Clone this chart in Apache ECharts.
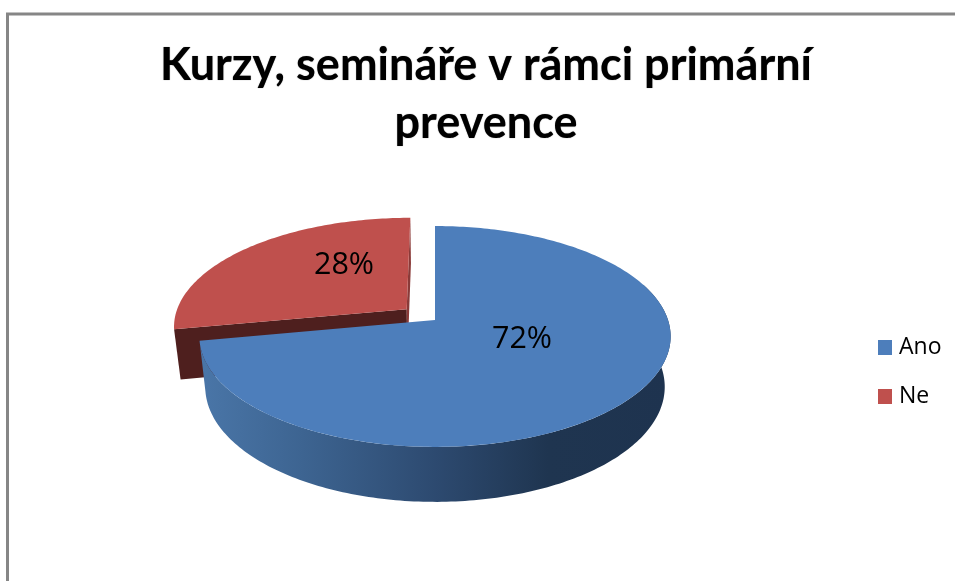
<!DOCTYPE html>
<html>
<head>
<meta charset="utf-8">
<style>
    html, body { margin: 0; padding: 0; background: #fff; }
    #chart { width: 955px; height: 581px; }
</style>
</head>
<body>
<div id="chart"></div>
<script src="https://cdn.jsdelivr.net/npm/echarts@6/dist/echarts.min.js"></script>
<script>
const categories = ['Ano', 'Ne'];
const percents = [72, 28];
const topColors = ['#4d7ebb', '#bf504d'];
const sideColors = ['#4a76a8', '#4e1f1e'];
const titleText = 'Kurzy, semináře v rámci primární\nprevence';

// pixel layout of the tilted disc
const DISC = { cx: 435, cy: 320, rx: 233, a: 60.3, c: -0.149, explode: 0.16 };
const DEPTH = { back: 50, front: 55, backY: 327, frontY: 447, shrink: 0.975 };
const LABEL_POS = { Ano: [522, 339], Ne: [344, 265] };

// disc coordinates -> screen, with a bit of perspective
function project(u, v, lower) {
    const w = DISC.c * v + 1;
    let x = DISC.cx + (DISC.rx * u) / w;
    let y = (DISC.a * v + DISC.cy) / w;
    if (lower) {
        x = DISC.cx + (x - DISC.cx) * DEPTH.shrink;
        const k = (y - DEPTH.backY) / (DEPTH.frontY - DEPTH.backY);
        y += DEPTH.back + (DEPTH.front - DEPTH.back) * k;
    }
    return [x, y];
}

function rimPoints(from, to, off, lower) {
    const pts = [];
    const steps = Math.max(2, Math.ceil(to - from));
    for (let i = 0; i <= steps; i++) {
        const t = ((from + ((to - from) * i) / steps) * Math.PI) / 180;
        pts.push(project(Math.sin(t) + off[0], -Math.cos(t) + off[1], lower));
    }
    return pts;
}

function makeRenderItem(index) {
    return function (params, api) {
        const start = api.value(0);
        const end = start + api.value(1);
        const from = (start / 100) * 360;
        const to = (end / 100) * 360;
        const mid = (((from + to) / 2) * Math.PI) / 180;
        // only the smaller slice is pulled out of the pie
        const d = api.value(1) < 50 ? DISC.explode : 0;
        const off = [Math.sin(mid) * d, -Math.cos(mid) * d];
        const topRim = rimPoints(from, to, off, false);
        const apexTop = project(off[0], off[1], false);
        const apexLow = project(off[0], off[1], true);
        const children = [];

        if (d > 0) {
            // cut faces seen through the gap
            const a = rimPoints(from, from + 1, off, false)[0];
            const aLow = rimPoints(from, from + 1, off, true)[0];
            const b = rimPoints(to - 1, to, off, false).pop();
            const bLow = rimPoints(to - 1, to, off, true).pop();
            children.push({
                type: 'polygon',
                shape: { points: [a, apexTop, apexLow, aLow] },
                style: { fill: sideColors[index] },
                z2: 1,
            });
            children.push({
                type: 'polygon',
                shape: { points: [b, apexTop, apexLow, bLow] },
                style: { fill: '#8a3a38' },
                z2: 1,
            });
        } else {
            // front wall, only the part that faces the viewer
            const wallFrom = Math.max(from, 70);
            const upper = rimPoints(wallFrom, to, off, false);
            const lower = rimPoints(wallFrom, to, off, true).reverse();
            children.push({
                type: 'polygon',
                shape: { points: upper.concat(lower) },
                style: {
                    fill: {
                        type: 'linear',
                        x: 1, y: 0, x2: 0, y2: 0,
                        colorStops: [
                            { offset: 0, color: '#1e334f' },
                            { offset: 0.26, color: '#1f3550' },
                            { offset: 0.5, color: '#2d4a70' },
                            { offset: 0.78, color: '#3d6491' },
                            { offset: 1, color: '#4a76a8' },
                        ],
                    },
                },
                z2: 3,
            });
        }

        children.push({
            type: 'polygon',
            shape: { points: [apexTop].concat(topRim) },
            style: { fill: topColors[index] },
            z2: d > 0 ? 2 : 4,
        });

        const pos = LABEL_POS[categories[index]];
        children.push({
            type: 'text',
            x: pos[0],
            y: pos[1],
            style: {
                text: api.value(1) + '%',
                fill: '#000',
                fontFamily: 'Open Sans',
                fontSize: 30.5,
                align: 'center',
                verticalAlign: 'middle',
            },
            z2: 5,
        });

        return { type: 'group', children: children };
    };
}

let running = 0;
const series = categories.map((name, i) => {
    const item = {
        name: name,
        type: 'custom',
        coordinateSystem: 'none',
        renderItem: makeRenderItem(i),
        itemStyle: { color: topColors[i] },
        data: [[running, percents[i]]],
        silent: true,
        animation: false,
    };
    running += percents[i];
    return item;
});

const myChart = echarts.init(document.getElementById('chart'), null, { renderer: 'canvas' });
myChart.setOption({
    backgroundColor: '#fff',
    animation: false,
    title: {
        text: titleText,
        left: 481,
        top: 31,
        textAlign: 'center',
        textStyle: {
            fontFamily: 'Lato',
            fontWeight: 'bold',
            fontSize: 45,
            lineHeight: 58,
            color: '#000',
            textShadowColor: 'rgba(0,0,0,0.5)',
            textShadowBlur: 1,
        },
    },
    legend: {
        data: categories,
        orient: 'vertical',
        left: 878,
        top: 336,
        padding: 0,
        icon: 'rect',
        itemWidth: 14,
        itemHeight: 15,
        itemGap: 26,
        textStyle: { fontFamily: 'Open Sans', fontSize: 23, color: '#000', padding: [2, 0, 0, 2] },
    },
    graphic: [
        {
            type: 'polyline',
            shape: { points: [[7.5, 581], [7.5, 14], [955, 14]] },
            style: { stroke: '#868686', lineWidth: 3, fill: null },
            silent: true,
        },
    ],
    series: series,
});
</script>
</body>
</html>
